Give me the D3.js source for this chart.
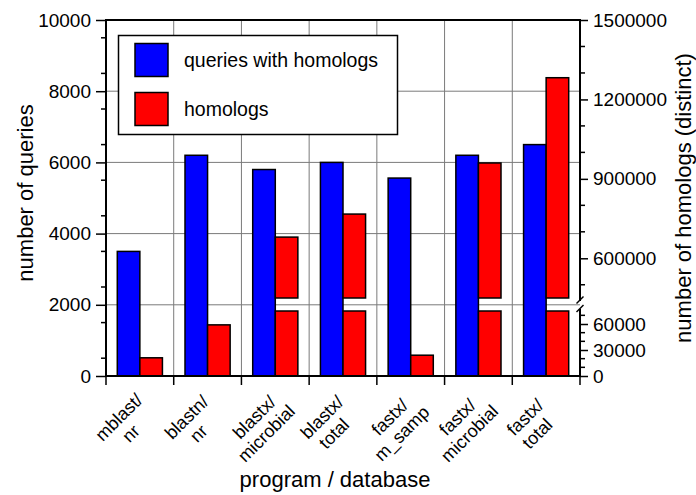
<!DOCTYPE html>
<html>
<head>
<meta charset="utf-8">
<script src="https://cdn.jsdelivr.net/npm/d3@7"></script>
<style>
  html, body { margin: 0; padding: 0; background: #fff; }
  svg { display: block; font-family: "Liberation Sans", Arial, Helvetica, sans-serif; }
</style>
</head>
<body>
<svg id="chart" width="696" height="495"></svg>
<script>
// ---- data ----
const categories = [["mblast/", "nr"], ["blastn/", "nr"], ["blastx/", "microbial"], ["blastx/", "total"],
                    ["fastx/", "m_samp"], ["fastx/", "microbial"], ["fastx/", "total"]];
const queriesWithHomologs = [3500, 6200, 5800, 6000, 5560, 6200, 6500];
const homologs = [21000, 59000, 680000, 767000, 24000, 960000, 1282000];
const leftTicks = [0, 2000, 4000, 6000, 8000, 10000];
const rightTicksLow = [0, 30000, 60000];
const rightTicksHigh = [600000, 900000, 1200000, 1500000];
const seriesNames = ["queries with homologs", "homologs"];
const colors = ["#0000ff", "#ff0000"];

// ---- layout ----
const L = 106, R = 580, T = 20, B = 376;
const breakLow = 75000, breakHigh = 450000;
const yLowTop = 311, yHighBottom = 298;

const svg = d3.select("#chart");
const catKeys = categories.map(c => c.join(" "));
const x = d3.scaleBand().domain(catKeys).range([L, R]).padding(0);
const bw = x.bandwidth();
const xs = d3.scaleBand().domain(seriesNames).range([bw / 6, bw * 5 / 6]).padding(0);

const yL = d3.scaleLinear().domain([0, 10000]).range([B, T]);
const yRLow = d3.scaleLinear().domain([0, breakLow]).range([B, yLowTop]);
const yRHigh = d3.scaleLinear().domain([breakHigh, 1500000]).range([yHighBottom, T]);

// ---- grid ----
const grid = svg.append("g").attr("stroke", "#7a7a7a").attr("stroke-width", 1);
grid.selectAll("line.h").data(leftTicks.filter(d => d > 0 && d < 10000)).join("line")
  .attr("x1", L).attr("x2", R).attr("y1", d => yL(d)).attr("y2", d => yL(d));
grid.selectAll("line.v").data(catKeys.slice(1)).join("line")
  .attr("x1", d => x(d)).attr("x2", d => x(d)).attr("y1", T).attr("y2", B);

// ---- bars ----
const bars = svg.append("g").attr("stroke", "#000").attr("stroke-width", 1.5);
bars.selectAll("rect.q").data(queriesWithHomologs).join("rect")
  .attr("x", (d, i) => x(catKeys[i]) + xs(seriesNames[0]))
  .attr("width", xs.bandwidth())
  .attr("y", d => yL(d)).attr("height", d => yL(0) - yL(d))
  .attr("fill", colors[0]);
homologs.forEach((v, i) => {
  const bx = x(catKeys[i]) + xs(seriesNames[1]);
  if (v <= breakLow) {
    bars.append("rect").attr("x", bx).attr("width", xs.bandwidth())
      .attr("y", yRLow(v)).attr("height", yRLow(0) - yRLow(v)).attr("fill", colors[1]);
  } else {
    bars.append("rect").attr("x", bx).attr("width", xs.bandwidth())
      .attr("y", yRLow(breakLow)).attr("height", yRLow(0) - yRLow(breakLow)).attr("fill", colors[1]);
    bars.append("rect").attr("x", bx).attr("width", xs.bandwidth())
      .attr("y", yRHigh(v)).attr("height", yRHigh(breakHigh) - yRHigh(v)).attr("fill", colors[1]);
  }
});

// ---- left axis ----
const leftAx = svg.append("g").attr("transform", `translate(${L},0)`)
  .call(d3.axisLeft(yL).tickValues(leftTicks).tickSize(10).tickPadding(5).tickFormat(d3.format("d")));
leftAx.select(".domain").remove();
leftAx.selectAll(".tick line").attr("stroke-width", 1.5);
leftAx.selectAll("text").attr("font-size", 19).attr("fill", "#000").attr("font-family", "Liberation Sans, Arial, sans-serif");
svg.append("g").attr("stroke", "#000").attr("stroke-width", 1.5)
  .selectAll("line").data(d3.range(500, 10000, 1000)).join("line")
  .attr("x1", L - 5).attr("x2", L).attr("y1", d => yL(d)).attr("y2", d => yL(d));

// ---- right axis (broken) ----
function rightAxis(scale, ticks, minor) {
  const g = svg.append("g").attr("transform", `translate(${R},0)`)
    .call(d3.axisRight(scale).tickValues(ticks).tickSize(8).tickPadding(5).tickFormat(d3.format("d")));
  g.select(".domain").remove();
  g.selectAll(".tick line").attr("stroke-width", 1.5);
  g.selectAll("text").attr("font-size", 19).attr("fill", "#000").attr("font-family", "Liberation Sans, Arial, sans-serif");
  svg.append("g").attr("stroke", "#000").attr("stroke-width", 1.5)
    .selectAll("line").data(minor).join("line")
    .attr("x1", R).attr("x2", R + 5).attr("y1", d => scale(d)).attr("y2", d => scale(d));
}
rightAxis(yRLow, rightTicksLow, [10000, 20000, 40000, 50000, 70000]);
rightAxis(yRHigh, rightTicksHigh, [500000, 700000, 800000, 1000000, 1100000, 1300000, 1400000]);

// ---- frame ----
const frame = svg.append("g").attr("stroke", "#000").attr("stroke-width", 2).attr("fill", "none");
frame.append("line").attr("x1", L).attr("x2", L).attr("y1", T - 1).attr("y2", B + 1);
frame.append("line").attr("x1", L - 1).attr("x2", R + 1).attr("y1", T).attr("y2", T);
frame.append("line").attr("x1", L - 1).attr("x2", R + 1).attr("y1", B).attr("y2", B);
frame.append("line").attr("x1", R).attr("x2", R).attr("y1", T - 1).attr("y2", 301);
frame.append("line").attr("x1", R).attr("x2", R).attr("y1", 309).attr("y2", B + 1);
frame.append("line").attr("x1", 576.5).attr("x2", 583.5).attr("y1", 303.5).attr("y2", 296.5).attr("stroke-width", 1.5);
frame.append("line").attr("x1", 576.5).attr("x2", 583.5).attr("y1", 312).attr("y2", 305).attr("stroke-width", 1.5);
// category boundary ticks
svg.append("g").attr("stroke", "#000").attr("stroke-width", 1.5)
  .selectAll("line").data(catKeys.map(k => x(k)).concat([R])).join("line")
  .attr("x1", d => d).attr("x2", d => d).attr("y1", B).attr("y2", B + 9);

// ---- category labels ----
categories.forEach((c, i) => {
  const cx = x(catKeys[i]) + bw / 2;
  const g = svg.append("g").attr("transform", `translate(${cx},${B}) rotate(-45)`);
  c.forEach((line, j) => {
    g.append("text").attr("x", j ? -47 : -44).attr("y", j ? 40.5 : 20.5)
      .attr("text-anchor", "middle").attr("font-size", 18).attr("fill", "#000").text(line);
  });
});

// ---- axis titles ----
svg.append("text").attr("transform", `translate(33,193) rotate(-90)`)
  .attr("text-anchor", "middle").attr("font-size", 22).text("number of queries");
svg.append("text").attr("transform", `translate(691,198) rotate(-90)`)
  .attr("text-anchor", "middle").attr("font-size", 22).text("number of homologs (distinct)");
svg.append("text").attr("x", 335).attr("y", 487)
  .attr("text-anchor", "middle").attr("font-size", 22).text("program / database");

// ---- legend ----
const leg = svg.append("g");
leg.append("rect").attr("x", 118.5).attr("y", 35.5).attr("width", 279).attr("height", 99)
  .attr("fill", "#fff").attr("stroke", "#000").attr("stroke-width", 1.5);
seriesNames.forEach((s, i) => {
  const cy = 60 + i * 49;
  leg.append("rect").attr("x", 135).attr("y", cy - 16.5).attr("width", 33).attr("height", 33)
    .attr("fill", colors[i]).attr("stroke", "#000").attr("stroke-width", 1.5);
  leg.append("text").attr("x", 184).attr("y", cy + 6.5).attr("font-size", 19.5).text(s);
});
</script>
</body>
</html>
